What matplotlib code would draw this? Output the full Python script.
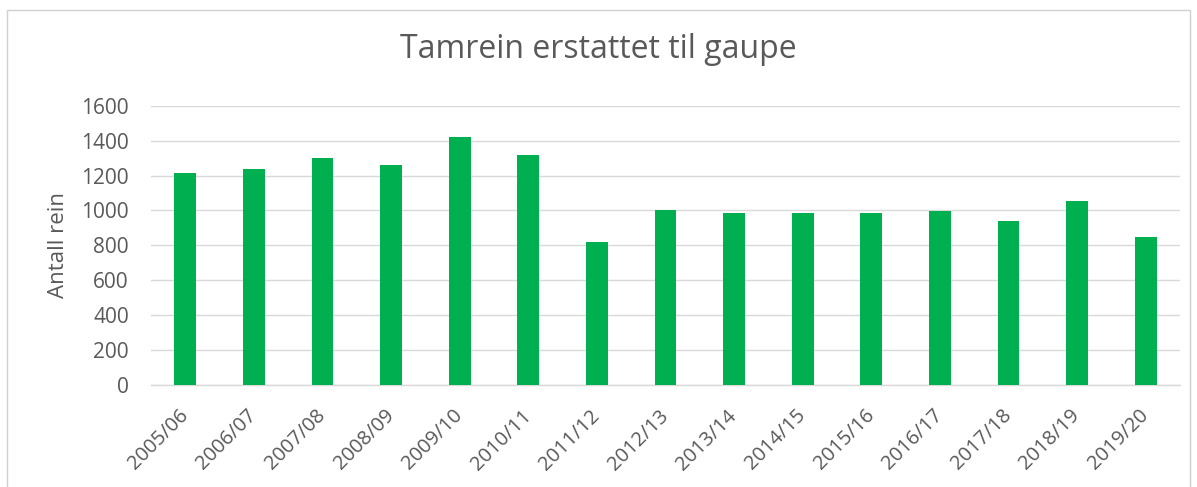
import matplotlib
matplotlib.use("Agg")
import matplotlib.pyplot as plt
from matplotlib.patches import Rectangle

# ─── data ────────────────────────────────────────────────────────────────────
seasons = [
    "2005/06", "2006/07", "2007/08", "2008/09", "2009/10",
    "2010/11", "2011/12", "2012/13", "2013/14", "2014/15",
    "2015/16", "2016/17", "2017/18", "2018/19", "2019/20",
]
antall_rein = [1212, 1235, 1302, 1258, 1419, 1316, 822, 1004, 983, 983, 983, 995, 938, 1052, 846]
y_ticks = [0, 200, 400, 600, 800, 1000, 1200, 1400, 1600]

TITLE = "Tamrein erstattet til gaupe"
YLABEL = "Antall rein"
BAR_COLOR = "#00B050"
TEXT_COLOR = "#595959"
GRID_COLOR = "#d9d9d9"

plt.rcParams["font.family"] = ["Open Sans", "DejaVu Sans"]

fig = plt.figure(figsize=(11.97, 4.87), dpi=100)

# chart frame (Excel-style box)
fig.patches.append(
    Rectangle((7 / 1197, -0.01), 1183 / 1197, 1 - 10 / 487 + 0.01,
              transform=fig.transFigure, fill=False, edgecolor="#d0d0d0", linewidth=1.0)
)

ax = fig.add_axes([151 / 1197, 1 - 385 / 487, 1029 / 1197, (385 - 105.7) / 487])

x = range(len(seasons))
ax.bar(x, antall_rein, width=0.32, color=BAR_COLOR, zorder=3)

ax.set_xlim(-0.5, len(seasons) - 0.5)
ax.set_ylim(0, 1600)
ax.set_yticks(y_ticks)
ax.set_yticklabels([str(v) for v in y_ticks], color=TEXT_COLOR, fontsize=15)
ax.set_xticks(list(x))
ax.set_xticklabels(seasons, rotation=45, ha="right", va="center",
                   rotation_mode="anchor", color=TEXT_COLOR, fontsize=14.5)
ax.tick_params(axis="both", length=0)
ax.tick_params(axis="x", pad=20)
ax.tick_params(axis="y", pad=16)

ax.grid(axis="y", color=GRID_COLOR, linewidth=1.0, zorder=0)
for side in ["top", "right", "left"]:
    ax.spines[side].set_visible(False)
ax.spines["bottom"].set_color(GRID_COLOR)
ax.spines["bottom"].set_linewidth(1.0)

ax.set_ylabel(YLABEL, color=TEXT_COLOR, fontsize=16)
ax.yaxis.set_label_coords(-82 / 1029, 0.5)
fig.text(0.5, 1 - 50 / 487, TITLE, ha="center", va="center", color=TEXT_COLOR, fontsize=23)

fig.savefig("out.png", dpi=100)
